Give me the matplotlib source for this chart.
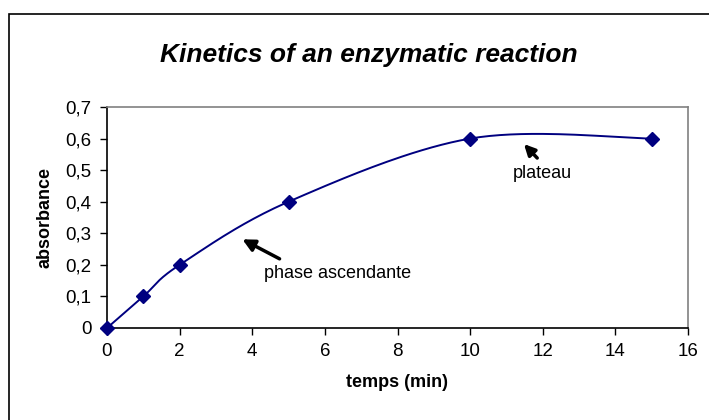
import numpy as np
import matplotlib
matplotlib.use('Agg')
import matplotlib.pyplot as plt
from matplotlib.patches import Rectangle

plt.rcParams['font.family'] = ['Liberation Sans', 'DejaVu Sans']

# donnees
temps = [0, 1, 2, 5, 10, 15]
absorbance = [0, 0.1, 0.2, 0.4, 0.6, 0.6]
xticks = [0, 2, 4, 6, 8, 10, 12, 14, 16]
yticks = [0, 0.1, 0.2, 0.3, 0.4, 0.5, 0.6, 0.7]
ytick_labels = ['0', '0,1', '0,2', '0,3', '0,4', '0,5', '0,6', '0,7']


def lissage(x, y, n=40):
    # courbe lissee facon tableur (Bezier, tension 1/6)
    p = np.column_stack([x, y]).astype(float)
    pts = []
    for i in range(len(p) - 1):
        p0 = p[i - 1] if i > 0 else p[i]
        p3 = p[i + 2] if i + 2 < len(p) else p[i + 1]
        c1 = p[i] + (p[i + 1] - p0) / 6
        c2 = p[i + 1] - (p3 - p[i]) / 6
        t = np.linspace(0, 1, n)[:, None]
        b = ((1 - t) ** 3) * p[i] + 3 * ((1 - t) ** 2) * t * c1 + 3 * (1 - t) * t ** 2 * c2 + t ** 3 * p[i + 1]
        pts.append(b)
    pts = np.vstack(pts)
    return pts[:, 0], pts[:, 1]


fig = plt.figure(figsize=(7.09, 4.2), dpi=100)
W, H = 709, 420
ax = fig.add_axes([107 / W, 1 - 328 / H, 581 / W, 221 / H])

# cadre exterieur (seuls les bords gauche et haut sont visibles)
fig.patches.append(Rectangle((9 / W, -0.1), 1.0, 1.1 - 14 / H, transform=fig.transFigure,
                             fill=False, edgecolor='black', linewidth=1.2))

xs, ys = lissage(temps, absorbance)
ax.plot(xs, ys, color='#000080', linewidth=1.4, zorder=3)
ax.plot(temps, absorbance, linestyle='none', marker='D', markersize=7,
        color='#000080', zorder=4, clip_on=False)

ax.set_xlim(0, 16)
ax.set_ylim(0, 0.7)
ax.set_xticks(xticks)
ax.set_yticks(yticks)
ax.set_yticklabels(ytick_labels)
ax.tick_params(direction='out', length=5, width=1, labelsize=13.5, pad=6)
for s in ['top', 'right']:
    ax.spines[s].set_color('#808080')
    ax.spines[s].set_linewidth(1.2)
for s in ['left', 'bottom']:
    ax.spines[s].set_linewidth(1.2)

ax.set_xlabel('temps (min)', fontsize=13, fontweight='bold', labelpad=10)
ax.set_ylabel('absorbance', fontsize=13, fontweight='bold', labelpad=9)

fig.text(369 / W, 1 - 55 / H, 'Kinetics of an enzymatic reaction', ha='center', va='center',
         fontsize=19, fontweight='bold', style='italic')

ax.annotate('', xy=(3.66, 0.285), xytext=(4.82, 0.215),
            arrowprops=dict(arrowstyle='-|>', color='black', lw=2.5, mutation_scale=18))
ax.text(6.36, 0.174, 'phase ascendante', fontsize=13, ha='center', va='center')
ax.annotate('', xy=(11.43, 0.589), xytext=(11.9, 0.532),
            arrowprops=dict(arrowstyle='-|>', color='black', lw=2.5, mutation_scale=16))
ax.text(12.0, 0.49, 'plateau', fontsize=13, ha='center', va='center')

fig.savefig('out.png', dpi=100)
